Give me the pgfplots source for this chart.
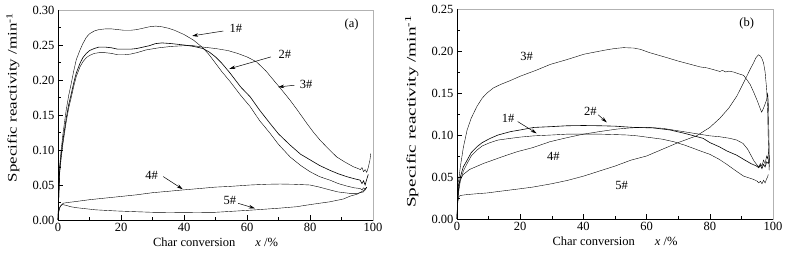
\documentclass[border=0pt]{standalone}
\usepackage{fontspec}
\setmainfont{Liberation Serif}
\usepackage{graphicx}
\usepackage{pgfplots}
\pgfplotsset{compat=1.18}
\usetikzlibrary{arrows.meta}
\newcommand\fs{\fontsize{12.5}{14}\selectfont}
\pgfplotsset{myax/.style={
  scale only axis, anchor=south west,
  xmin=0, xmax=100, ymin=0,
  xtick pos=bottom, ytick pos=left,
  tick align=inside,
  axis line style={gray!60, line width=0.6pt},
  xtick={0,20,...,100}, minor xtick={10,30,...,90},
  major tick length=5pt, minor tick length=3pt,
  tick style={black, line width=0.5pt},
  tick label style={font=\fs},
  /pgf/number format/assume math mode=true,
  y tick label style={/pgf/number format/fixed, /pgf/number format/fixed zerofill, /pgf/number format/precision=2},
  scaled y ticks=false,
  xlabel={Char conversion\hspace{1.6em}\textit{x} /\%},
  xlabel style={font=\fs, at={(axis description cs:0.5,-0.124)}, anchor=base},
  clip=false,
  cycle list={{black, line width=0.6pt, line join=round, no markers}},
}}
\tikzset{arr/.style={-{Stealth[length=6pt,width=3.5pt]}, line width=0.5pt, black}}
\begin{document}
\begin{tikzpicture}[x=1pt,y=1pt]
\path[use as bounding box] (0,0) rectangle (788,252);
% ---------------- (a)
\begin{axis}[myax, at={(58pt,32pt)}, width=315pt, height=210pt,
  ymax=0.30, ytick={0,0.05,...,0.30}, minor ytick={0.025,0.075,...,0.275},
  ylabel={\scalebox{1.3}[1]{\fontsize{13}{15}\selectfont Specific reactivity /min\textsuperscript{-1}}},
  ylabel style={at={(axis description cs:-0.143,0.583)}, anchor=center}]
% 1#
\addplot coordinates {(0,0) (0.2,0.03) (0.5,0.076) (1,0.1) (1.6,0.124) (2.6,0.157) (3.4,0.178) (4.2,0.195) (5,0.213) (5.8,0.229) (7,0.243) (7.9,0.252) (9,0.261) (10,0.266) (11.5,0.27) (13,0.272) (15,0.273) (17,0.273) (19,0.272) (21,0.271) (23,0.271) (25,0.272) (27,0.274) (29,0.276) (31,0.277) (33,0.276) (35,0.274) (37,0.271) (40,0.265) (43,0.257) (46,0.246) (48,0.236) (50,0.224) (52,0.212) (54.6,0.198) (58,0.178) (61,0.162) (64,0.142) (67.3,0.124) (70,0.108) (73.7,0.09) (77,0.078) (80,0.069) (83,0.062) (86.3,0.057) (89,0.052) (91.6,0.0486) (94,0.046) (95.9,0.045) (96.5,0.043) (97,0.046) (97.5,0.044) (98,0.047)};
% 2#
\addplot coordinates {(0,0) (0.2,0.028) (0.5,0.07) (1,0.093) (1.6,0.115) (2.6,0.145) (3.4,0.165) (4.2,0.18) (5,0.196) (5.8,0.21) (7,0.224) (7.9,0.232) (9,0.238) (10,0.242) (11.5,0.245) (13,0.247) (15,0.247) (17,0.246) (19,0.244) (21,0.244) (23,0.244) (25,0.245) (27,0.247) (29,0.249) (31,0.252) (33,0.253) (36,0.252) (40,0.250) (43,0.248) (46,0.245) (48,0.24) (50,0.233) (52,0.224) (54.6,0.21) (58,0.19) (61,0.176) (64,0.157) (67.3,0.138) (70,0.123) (73.7,0.107) (77,0.094) (80,0.086) (83,0.078) (86.3,0.071) (89,0.066) (91.6,0.062) (94,0.059) (95.9,0.057) (96.5,0.052) (97,0.056) (97.5,0.05) (98,0.058) (98.5,0.065)};
% 3#
\addplot coordinates {(0,0) (0.2,0.026) (0.5,0.065) (1,0.088) (1.6,0.11) (2.6,0.14) (3.4,0.16) (4.2,0.175) (5,0.191) (5.8,0.205) (7,0.219) (7.9,0.226) (9,0.232) (10,0.235) (11.5,0.238) (13,0.239) (15,0.239) (17,0.238) (19,0.236) (21,0.236) (23,0.237) (25,0.239) (28,0.243) (32,0.246) (36,0.248) (40,0.249) (43,0.249) (46,0.247) (50,0.245) (54,0.242) (57,0.238) (60,0.233) (63,0.226) (66,0.213) (68.4,0.2) (71,0.186) (73.7,0.171) (76,0.157) (79,0.138) (81,0.126) (83.2,0.114) (86,0.101) (88.5,0.090) (91,0.083) (93.8,0.076) (95,0.074) (96,0.072) (96.5,0.075) (97,0.069) (97.5,0.072) (98,0.068) (98.5,0.075) (99,0.085) (99.3,0.095)};
% 4#
\addplot coordinates {(0,0) (0.2,0.012) (0.5,0.018) (1,0.021) (1.7,0.024) (3,0.025) (5,0.026) (10,0.029) (18.6,0.033) (25,0.036) (30,0.039) (35,0.041) (39.8,0.043) (45,0.045) (50,0.047) (54.6,0.048) (61,0.050) (66,0.051) (70.5,0.0514) (75,0.051) (80,0.050) (83,0.047) (86.3,0.043) (89,0.040) (92.7,0.038) (95,0.038) (96.9,0.040) (97.5,0.043) (98,0.047)};
% 5#
\addplot coordinates {(0,0) (0.2,0.01) (0.5,0.017) (1,0.021) (1.5,0.022) (2.5,0.021) (4,0.019) (6,0.0175) (8,0.0165) (12,0.0145) (18.6,0.0129) (25,0.0118) (30,0.011) (39.8,0.0105) (50,0.011) (61,0.014) (70,0.0168) (75.8,0.019) (80,0.022) (86.3,0.026) (90.6,0.030) (92.7,0.034) (95,0.037) (96.6,0.041) (97.5,0.044) (98,0.047)};
\draw[black, line width=0.6pt] (rel axis cs:0,1) -- (rel axis cs:0,0) -- (rel axis cs:1,0);
\node[font=\fs] at (axis cs:56.5,0.274) {1\#};
\draw[arr] (axis cs:52.5,0.270) -- (axis cs:42.6,0.263);
\node[font=\fs] at (axis cs:72,0.236) {2\#};
\draw[arr] (axis cs:67.6,0.233) -- (axis cs:54.4,0.216);
\node[font=\fs] at (axis cs:78.8,0.193) {3\#};
\draw[arr] (axis cs:75,0.1925) -- (axis cs:69.9,0.190);
\node[font=\fs] at (axis cs:29.7,0.064) {4\#};
\draw[arr] (axis cs:33.4,0.062) -- (axis cs:39.6,0.044);
\node[font=\fs] at (axis cs:54.6,0.0276) {5\#};
\draw[arr] (axis cs:57.2,0.0238) -- (axis cs:62.5,0.0167);
\node[font=\fs] at (axis cs:93.2,0.28) {(a)};
\end{axis}
% ---------------- (b)
\begin{axis}[myax, at={(457pt,33pt)}, width=316pt, height=210pt,
  ymax=0.25, ytick={0,0.05,...,0.25}, minor ytick={0.025,0.075,...,0.225},
  ylabel={\scalebox{1.48}[1]{\fontsize{13}{15}\selectfont Specific reactivity /min\textsuperscript{-1}}},
  ylabel style={at={(axis description cs:-0.143,0.512)}, anchor=center}]
% 1#
\addplot coordinates {(0,0) (0.2,0.02) (0.5,0.032) (1.05,0.045) (2,0.057) (3.2,0.066) (4.5,0.075) (6.3,0.082) (8,0.087) (10.5,0.091) (13,0.094) (16.9,0.096) (20,0.0975) (24.3,0.099) (30,0.1) (34.8,0.101) (40,0.101) (45.4,0.101) (50,0.1005) (53.8,0.100) (57,0.099) (61,0.097) (65,0.095) (68.6,0.092) (72,0.088) (74.9,0.084) (77,0.081) (80,0.077) (83,0.071) (85.4,0.065) (88,0.058) (90.7,0.051) (93.9,0.047) (95,0.045) (95.5,0.043) (96,0.045) (96.5,0.042) (97,0.046) (97.5,0.043) (98,0.048) (98.3,0.05) (98.5,0.053)};
% 2#
\addplot coordinates {(0,0) (0.2,0.022) (0.5,0.036) (1.05,0.05) (2,0.062) (3.2,0.07) (4.5,0.079) (6.3,0.086) (8,0.091) (10.5,0.096) (13,0.1) (16.9,0.104) (20,0.106) (24.3,0.109) (30,0.110) (34.8,0.111) (40,0.1113) (45.4,0.111) (50,0.1105) (56,0.109) (62,0.1085) (67.4,0.106) (72,0.102) (74,0.1) (77.9,0.096) (80,0.091) (83,0.086) (85.4,0.081) (88.5,0.076) (90.7,0.071) (93,0.066) (94.8,0.063) (95.5,0.061) (96,0.064) (96.5,0.06) (97,0.065) (97.5,0.062) (98,0.068) (98.5,0.066) (98.8,0.072)};
% 3#
\addplot coordinates {(0,0) (0.2,0.025) (0.5,0.045) (1.05,0.062) (2,0.085) (3.2,0.106) (4.5,0.12) (6.3,0.134) (8,0.144) (9.5,0.15) (11.5,0.156) (13.7,0.16) (17,0.165) (20,0.170) (25,0.177) (29.5,0.184) (35,0.19) (40,0.196) (44,0.199) (47.5,0.2015) (50,0.203) (52.7,0.204) (56,0.2035) (58,0.202) (61,0.198) (66.5,0.192) (70,0.188) (74,0.184) (77,0.181) (79,0.180) (81,0.178) (83.2,0.1756) (84,0.177) (85,0.175) (86,0.176) (87.5,0.175) (89,0.173) (90.7,0.171) (91.7,0.166) (92.8,0.160) (94,0.150) (95,0.141) (95.8,0.133) (96.4,0.127) (97,0.132) (97.6,0.138) (98,0.142) (98.3,0.15) (98.5,0.14) (98.7,0.1) (98.9,0.062)};
% 4#
\addplot coordinates {(0,0) (0.2,0.02) (0.5,0.04) (1,0.047) (2,0.053) (4,0.059) (8.3,0.066) (12,0.071) (15,0.075) (18.9,0.08) (24,0.085) (29.4,0.092) (35,0.097) (40,0.101) (45,0.104) (50.5,0.107) (55,0.1085) (60,0.109) (65,0.108) (70,0.105) (75,0.102) (80,0.099) (83,0.098) (86.4,0.096) (88.5,0.094) (90.5,0.09) (92,0.083) (93,0.076) (94,0.069) (94.8,0.065) (95.5,0.062) (96,0.066) (96.5,0.063) (97,0.07) (97.5,0.066) (98,0.075) (98.3,0.072) (98.6,0.08)};
% 5#
\addplot coordinates {(0,0) (0.2,0.018) (0.5,0.026) (1,0.028) (3,0.029) (6,0.030) (9.5,0.031) (13.6,0.033) (20,0.036) (24,0.038) (30,0.042) (35,0.046) (40,0.051) (45,0.057) (50,0.063) (55,0.07) (60,0.075) (65,0.083) (70,0.091) (75.8,0.099) (80,0.109) (83.2,0.12) (86,0.132) (88.5,0.146) (90,0.157) (91.7,0.17) (93,0.18) (93.8,0.1855) (94.6,0.192) (95.4,0.1955) (96,0.194) (96.5,0.191) (97,0.186) (97.5,0.175) (98,0.154) (98.3,0.13) (98.5,0.095) (98.8,0.058)};
\draw[black, line width=0.6pt] (rel axis cs:0,1) -- (rel axis cs:0,0) -- (rel axis cs:1,0);
\node[font=\fs] at (axis cs:22,0.1935) {3\#};
\node[font=\fs] at (axis cs:16.2,0.12) {1\#};
\draw[arr] (axis cs:19.2,0.116) -- (axis cs:25.2,0.102);
\node[font=\fs] at (axis cs:42.2,0.1287) {2\#};
\draw[arr] (axis cs:44.7,0.124) -- (axis cs:47.4,0.115);
\node[font=\fs] at (axis cs:30.5,0.074) {4\#};
\node[font=\fs] at (axis cs:52.1,0.0405) {5\#};
\node[font=\fs] at (axis cs:91.7,0.233) {(b)};
\end{axis}
\end{tikzpicture}
\end{document}
